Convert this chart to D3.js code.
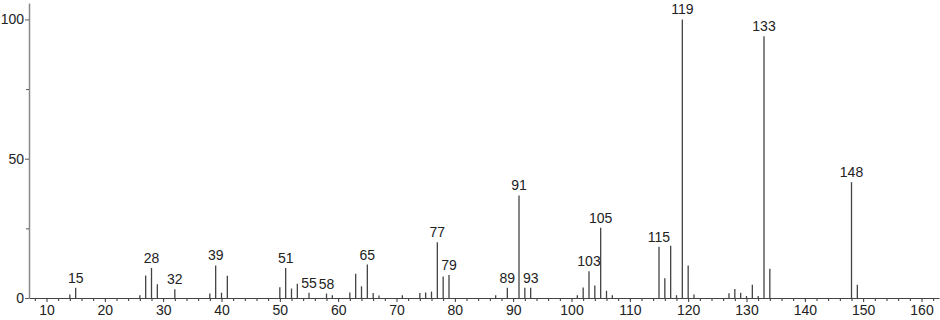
<!DOCTYPE html>
<html><head><meta charset="utf-8">
<script src="https://cdn.jsdelivr.net/npm/d3@7"></script>
<style>body{margin:0;background:#fff;} svg{display:block;}</style>
</head><body>
<script>
const mz = [14,15,26,27,28,29,32,38,39,40,41,50,51,52,53,55,58,59,62,63,64,65,66,67,71,74,75,76,77,78,79,87,89,91,92,93,101,102,103,104,105,106,107,115,116,117,118,119,120,121,127,128,129,130,131,132,133,134,148,149];
const intensity = [1.3,3.7,1.0,8.1,10.8,4.9,3.1,1.6,11.7,1.9,8.0,3.9,10.8,3.4,5.1,1.9,1.6,1.0,2.0,8.7,4.2,12.0,1.8,0.9,1.0,1.8,2.0,2.3,20.0,7.7,8.3,1.0,3.7,36.8,3.7,3.7,1.0,3.8,9.6,4.5,25.2,2.6,1.0,18.4,7.1,18.8,1.0,100,11.7,1.3,1.7,3.2,1.9,0.7,4.8,0.7,94.0,10.5,41.6,4.8];
const labeledPeaks = [15,28,32,39,51,55,58,65,77,79,89,91,93,103,105,115,119,133,148];
const xTicks = [10,20,30,40,50,60,70,80,90,100,110,120,130,140,150,160];
const yTicks = [0,50,100];
const yMinorTicks = [25,75];

const W = 940, H = 320;
const svg = d3.select("body").append("svg").attr("width", W).attr("height", H);
const x = d3.scaleLinear().domain([7,163]).range([29,939]);
const y = d3.scaleLinear().domain([0,105.9]).range([298,3]);
const font = "'Liberation Sans', Arial, sans-serif";

// minor x ticks every 2
const xMinor = d3.range(8,163,2).filter(v => v % 10 !== 0);
svg.append("g").attr("transform","translate(0,298)")
  .call(d3.axisBottom(x).tickValues(xMinor).tickSize(3).tickFormat(""))
  .call(g => g.select(".domain").remove())
  .call(g => g.selectAll("line").attr("stroke","#333"));
svg.append("g").attr("transform","translate(0,298)")
  .call(d3.axisBottom(x).tickValues(xTicks).tickSize(4).tickSizeOuter(0).tickPadding(3))
  .call(g => g.select(".domain").attr("stroke","#444"))
  .call(g => g.selectAll("line").attr("stroke","#333"))
  .call(g => g.selectAll("text").attr("font-family",font).attr("font-size",14).attr("fill","#222"));

svg.append("g").attr("transform","translate(29,0)")
  .call(d3.axisLeft(y).tickValues(yMinorTicks).tickSize(3).tickFormat(""))
  .call(g => g.select(".domain").remove())
  .call(g => g.selectAll("line").attr("stroke","#555"));
svg.append("g").attr("transform","translate(29,0)")
  .call(d3.axisLeft(y).tickValues(yTicks).tickSize(4).tickSizeOuter(0).tickPadding(1))
  .call(g => g.select(".domain").attr("stroke","#888").attr("stroke-width",1.5))
  .call(g => g.selectAll("line").attr("stroke","#555"))
  .call(g => g.selectAll("text").attr("font-family",font).attr("font-size",14).attr("fill","#222"));

const peaks = mz.map((m,i)=>({m, v:intensity[i]}));
svg.append("g").selectAll("line").data(peaks).join("line")
  .attr("x1", d=>x(d.m)).attr("x2", d=>x(d.m))
  .attr("y1", y(0)).attr("y2", d=>y(d.v))
  .attr("stroke","#444").attr("stroke-width",1.3);

svg.append("g").selectAll("text").data(peaks.filter(d=>labeledPeaks.includes(d.m))).join("text")
  .attr("x", d=>x(d.m)).attr("y", d=>y(d.v)-5)
  .attr("text-anchor","middle")
  .attr("font-family",font).attr("font-size",14).attr("fill","#222")
  .text(d=>d.m);
</script>
</body></html>
